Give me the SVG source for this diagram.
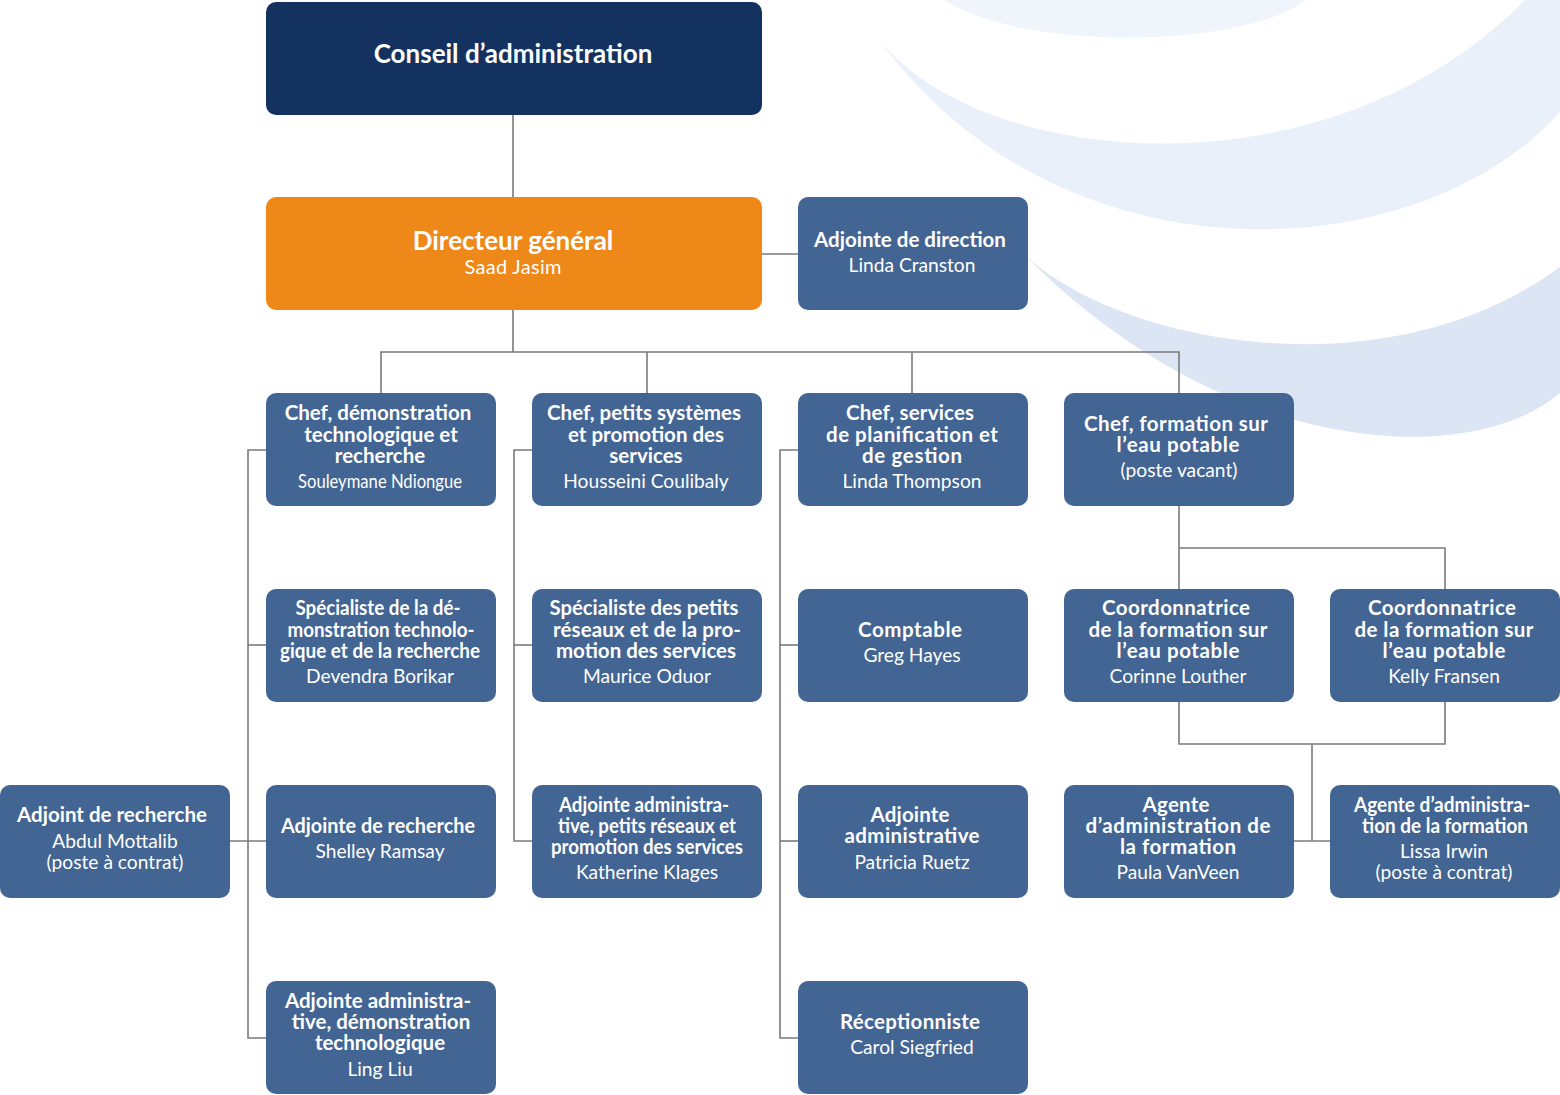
<svg xmlns="http://www.w3.org/2000/svg" width="1560" height="1095" viewBox="0 0 1560 1095">
<style>
.box{fill:#436593}
.t{font-family:Lato,"Open Sans","Liberation Sans",sans-serif;font-weight:700;font-size:20.5px;fill:#ffffff;text-anchor:middle}
.n{font-family:Lato,"Open Sans","Liberation Sans",sans-serif;font-weight:400;font-size:19.2px;fill:#ffffff;text-anchor:middle}
.big{font-size:26px}
.c{fill:none;stroke:#7a7a7a;stroke-width:1.6}
</style>
<g id="background">
<path d="M944,0 C1020,50 1240,50 1306,0 Z" fill="#F0F4FB"/>
<path d="M878,38 C980,170 1330,200 1525,0 L1560,0 L1560,112 C1420,270 1060,290 878,38 Z" fill="#EAF0F9"/>
<path d="M1015,245 C1100,340 1380,400 1560,267 L1560,393 C1470,470 1220,460 1015,245 Z" fill="#DBE5F4"/>
</g>
<g id="connectors">
<path class="c" d="M513,115 V197"/>
<path class="c" d="M762,254 H798"/>
<path class="c" d="M513,310 V352"/>
<path class="c" d="M381,393 V352 H1179 V393"/>
<path class="c" d="M647,352 V393"/>
<path class="c" d="M912,352 V393"/>
<path class="c" d="M266,450 H248 V1038 H266"/>
<path class="c" d="M248,645 H266"/>
<path class="c" d="M230,841 H266"/>
<path class="c" d="M532,450 H514 V841 H532"/>
<path class="c" d="M514,645 H532"/>
<path class="c" d="M798,450 H780 V1038 H798"/>
<path class="c" d="M780,645 H798"/>
<path class="c" d="M780,841 H798"/>
<path class="c" d="M1179,506 V589"/>
<path class="c" d="M1179,548 H1445 V589"/>
<path class="c" d="M1179,702 V744 H1445 V702"/>
<path class="c" d="M1312,744 V841"/>
<path class="c" d="M1294,841 H1330"/>
</g>
<g id="conseil">
<rect x="266" y="2" width="496" height="113" rx="10" fill="#14325F"/>
<text class="t big" x="513" y="63">Conseil d’administration</text>
</g>
<g id="directeur">
<rect x="266" y="197" width="496" height="113" rx="10" fill="#EE8818"/>
<text class="t big" x="513" y="250">Directeur général</text>
<text class="n" x="513" y="274" style="font-size:20px" textLength="97">Saad Jasim</text>
</g>
<g id="adjointe-direction">
<rect class="box" x="798" y="197" width="230" height="113" rx="10"/>
<text class="t" x="910" y="247">Adjointe de direction</text>
<text class="n" x="912" y="272">Linda Cranston</text>
</g>
<g id="chef-demo">
<rect class="box" x="266" y="393" width="230" height="113" rx="10"/>
<text class="t" x="378" y="420">Chef, démonstration</text>
<text class="t" x="381" y="441.5">technologique et</text>
<text class="t" x="380" y="462.5">recherche</text>
<text class="n" x="380" y="488" textLength="164" lengthAdjust="spacingAndGlyphs">Souleymane Ndiongue</text>
</g>
<g id="chef-petits">
<rect class="box" x="532" y="393" width="230" height="113" rx="10"/>
<text class="t" x="644" y="420">Chef, petits systèmes</text>
<text class="t" x="646" y="441.5">et promotion des</text>
<text class="t" x="646" y="462.5">services</text>
<text class="n" x="646" y="488">Housseini Coulibaly</text>
</g>
<g id="chef-planif">
<rect class="box" x="798" y="393" width="230" height="113" rx="10"/>
<text class="t" x="910" y="420" textLength="128">Chef, services</text>
<text class="t" x="912" y="441.5" textLength="172">de planification et</text>
<text class="t" x="912" y="462.5" textLength="100">de gestion</text>
<text class="n" x="912" y="488">Linda Thompson</text>
</g>
<g id="chef-formation">
<rect class="box" x="1064" y="393" width="230" height="113" rx="10"/>
<text class="t" x="1176" y="431" textLength="184">Chef, formation sur</text>
<text class="t" x="1178" y="452" textLength="123">l’eau potable</text>
<text class="n" x="1179" y="477">(poste vacant)</text>
</g>
<g id="specialiste-demo">
<rect class="box" x="266" y="589" width="230" height="113" rx="10"/>
<text class="t" x="378" y="615" textLength="165" lengthAdjust="spacingAndGlyphs">Spécialiste de la dé-</text>
<text class="t" x="381" y="636.5" textLength="187" lengthAdjust="spacingAndGlyphs">monstration technolo-</text>
<text class="t" x="380" y="657.5" textLength="200" lengthAdjust="spacingAndGlyphs">gique et de la recherche</text>
<text class="n" x="380" y="683">Devendra Borikar</text>
</g>
<g id="specialiste-petits">
<rect class="box" x="532" y="589" width="230" height="113" rx="10"/>
<text class="t" x="644" y="615" textLength="189" lengthAdjust="spacingAndGlyphs">Spécialiste des petits</text>
<text class="t" x="647" y="636.5" textLength="188">réseaux et de la pro-</text>
<text class="t" x="646" y="657.5">motion des services</text>
<text class="n" x="647" y="683">Maurice Oduor</text>
</g>
<g id="comptable">
<rect class="box" x="798" y="589" width="230" height="113" rx="10"/>
<text class="t" x="910" y="637" textLength="104">Comptable</text>
<text class="n" x="912" y="662">Greg Hayes</text>
</g>
<g id="coord-louther">
<rect class="box" x="1064" y="589" width="230" height="113" rx="10"/>
<text class="t" x="1176" y="615" textLength="148">Coordonnatrice</text>
<text class="t" x="1178" y="636.5" textLength="179">de la formation sur</text>
<text class="t" x="1178" y="657.5" textLength="123">l’eau potable</text>
<text class="n" x="1178" y="683">Corinne Louther</text>
</g>
<g id="coord-fransen">
<rect class="box" x="1330" y="589" width="230" height="113" rx="10"/>
<text class="t" x="1442" y="615" textLength="148">Coordonnatrice</text>
<text class="t" x="1444" y="636.5" textLength="179">de la formation sur</text>
<text class="t" x="1444" y="657.5" textLength="123">l’eau potable</text>
<text class="n" x="1444" y="683">Kelly Fransen</text>
</g>
<g id="adjoint-recherche-mottalib">
<rect class="box" x="0" y="785" width="230" height="113" rx="10"/>
<text class="t" x="112" y="822">Adjoint de recherche</text>
<text class="n" x="115" y="848">Abdul Mottalib</text>
<text class="n" x="115" y="869">(poste à contrat)</text>
</g>
<g id="adjointe-recherche-ramsay">
<rect class="box" x="266" y="785" width="230" height="113" rx="10"/>
<text class="t" x="378" y="833" textLength="194" lengthAdjust="spacingAndGlyphs">Adjointe de recherche</text>
<text class="n" x="380" y="858">Shelley Ramsay</text>
</g>
<g id="adjointe-admin-petits">
<rect class="box" x="532" y="785" width="230" height="113" rx="10"/>
<text class="t" x="644" y="811.5" textLength="170" lengthAdjust="spacingAndGlyphs">Adjointe administra-</text>
<text class="t" x="647" y="832.5" textLength="178" lengthAdjust="spacingAndGlyphs">tive, petits réseaux et</text>
<text class="t" x="647" y="853.5" textLength="192" lengthAdjust="spacingAndGlyphs">promotion des services</text>
<text class="n" x="647" y="879">Katherine Klages</text>
</g>
<g id="adjointe-admin-ruetz">
<rect class="box" x="798" y="785" width="230" height="113" rx="10"/>
<text class="t" x="910" y="822" textLength="79">Adjointe</text>
<text class="t" x="912" y="843" textLength="135">administrative</text>
<text class="n" x="912" y="869">Patricia Ruetz</text>
</g>
<g id="agente-vanveen">
<rect class="box" x="1064" y="785" width="230" height="113" rx="10"/>
<text class="t" x="1176" y="811.5" textLength="67">Agente</text>
<text class="t" x="1178" y="832.5" textLength="185">d’administration de</text>
<text class="t" x="1178" y="853.5" textLength="116">la formation</text>
<text class="n" x="1178" y="879">Paula VanVeen</text>
</g>
<g id="agente-irwin">
<rect class="box" x="1330" y="785" width="230" height="113" rx="10"/>
<text class="t" x="1442" y="812" textLength="176" lengthAdjust="spacingAndGlyphs">Agente d’administra-</text>
<text class="t" x="1445" y="833" textLength="166" lengthAdjust="spacingAndGlyphs">tion de la formation</text>
<text class="n" x="1444" y="858">Lissa Irwin</text>
<text class="n" x="1444" y="879">(poste à contrat)</text>
</g>
<g id="adjointe-admin-demo">
<rect class="box" x="266" y="981" width="230" height="113" rx="10"/>
<text class="t" x="378" y="1007.5">Adjointe administra-</text>
<text class="t" x="381" y="1028.5">tive, démonstration</text>
<text class="t" x="380" y="1049.5">technologique</text>
<text class="n" x="380" y="1075.5">Ling Liu</text>
</g>
<g id="receptionniste">
<rect class="box" x="798" y="981" width="230" height="113" rx="10"/>
<text class="t" x="910" y="1029" textLength="140">Réceptionniste</text>
<text class="n" x="912" y="1054">Carol Siegfried</text>
</g>
</svg>
